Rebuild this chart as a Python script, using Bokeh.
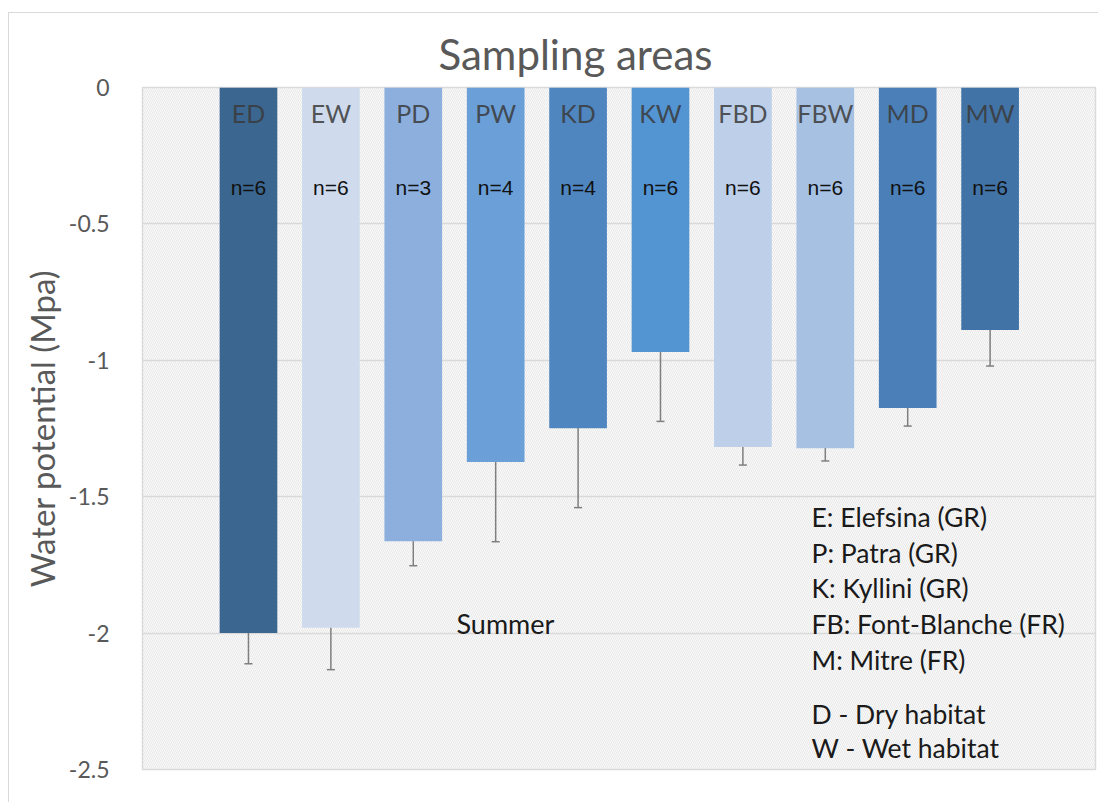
from bokeh.plotting import figure
from bokeh.models import Range1d, FixedTicker, Whisker, ColumnDataSource, BoxAnnotation, Label, TeeHead, Title
from bokeh.core.properties import value
from bokeh.embed import file_html
from bokeh.resources import INLINE

# ---- data ----
categories = ["ED", "EW", "PD", "PW", "KD", "KW", "FBD", "FBW", "MD", "MW"]
means = [-2.00, -1.98, -1.663, -1.373, -1.249, -0.970, -1.318, -1.322, -1.175, -0.889]
errors = [0.112, 0.154, 0.090, 0.292, 0.291, 0.254, 0.066, 0.047, 0.066, 0.132]
n_labels = ["n=6", "n=6", "n=3", "n=4", "n=4", "n=6", "n=6", "n=6", "n=6", "n=6"]
bar_colors = ["#3b6690", "#cfdbed", "#8cafdd", "#6a9fd8", "#4f86c0",
              "#5394d2", "#bdcfe9", "#a7c1e3", "#4a7fb8", "#4273a6"]
y_ticks = [0, -0.5, -1, -1.5, -2, -2.5]
y_tick_labels = ["0", "-0.5", "-1", "-1.5", "-2", "-2.5"]
legend_lines = ["E: Elefsina (GR)", "P: Patra (GR)", "K: Kyllini (GR)",
                "FB: Font-Blanche (FR)", "M: Mitre (FR)"]
habitat_lines = ["D - Dry habitat", "W - Wet habitat"]
title_text = "Sampling areas"
season_text = "Summer"
y_label = "Water potential (Mpa)"

FONT = "Lato"
idx = list(range(len(categories)))

p = figure(width=1090, height=790, output_backend="svg", toolbar_location=None,
           x_range=Range1d(-1.286, 10.279), y_range=Range1d(-2.5, 0),
           min_border_left=133, min_border_right=4, min_border_top=74, min_border_bottom=34)
p.styles = {"border-left": "1px solid #d9d9d9", "border-top": "1px solid #d9d9d9",
            "margin-left": "8px", "margin-top": "12px"}

p.background_fill_color = "#fbfbfb"
p.outline_line_color = "#d9d9d9"
p.outline_line_width = 1.5
p.add_layout(BoxAnnotation(level="image", fill_alpha=0, line_alpha=0,
                           hatch_pattern="\\", hatch_color="#e2e2e2",
                           hatch_scale=4, hatch_weight=0.8))

t = Title(text=title_text, align="left", offset=296, standoff=18,
          text_font=FONT, text_font_size="42px", text_font_style="normal",
          text_color="#595959")
p.add_layout(t, "above")

p.xaxis.visible = False
p.xgrid.visible = False
p.ygrid.grid_line_color = "#d9d9d9"
p.ygrid.grid_line_width = 1.5
p.ygrid.ticker = FixedTicker(ticks=y_ticks)

ax = p.yaxis[0]
ax.ticker = FixedTicker(ticks=y_ticks)
ax.major_label_overrides = {t: l for t, l in zip(y_ticks, y_tick_labels)}
ax.axis_line_color = None
ax.major_tick_line_color = None
ax.minor_tick_line_color = None
ax.major_label_standoff = 27
ax.major_label_text_font = FONT
ax.major_label_text_font_size = "23px"
ax.major_label_text_color = "#595959"
ax.axis_label = y_label
ax.axis_label_text_font = FONT
ax.axis_label_text_font_size = "33px"
ax.axis_label_text_font_style = "normal"
ax.axis_label_text_color = "#595959"
ax.axis_label_standoff = 4

src = ColumnDataSource(dict(x=idx, top=[0] * len(idx), bottom=means, color=bar_colors,
                            cat=categories, n=n_labels,
                            upper=[m + e for m, e in zip(means, errors)],
                            lower=[m - e for m, e in zip(means, errors)]))
p.vbar(x="x", top="top", bottom="bottom", width=0.70, fill_color="color",
       line_color=None, source=src)

w = Whisker(base="x", upper="upper", lower="lower", source=src,
            line_color="#7f7f7f", line_width=1.5,
            upper_head=TeeHead(size=8, line_color="#7f7f7f", line_width=1.5),
            lower_head=TeeHead(size=8, line_color="#7f7f7f", line_width=1.5))
p.add_layout(w)

p.text(x="x", y=-0.095, text="cat", source=src, text_align="center",
       text_baseline="middle", text_font=value(FONT), text_font_size="25px",
       text_color="#3a3a3a", text_alpha=0.85)
p.text(x="x", y=-0.367, text="n", source=src, text_align="center",
       text_baseline="middle", text_font=value("Liberation Sans"),
       text_font_size="21px", text_color="#111111")

legend_y = [-1.576, -1.705, -1.833, -1.965, -2.097]
for txt, yy in zip(legend_lines, legend_y):
    p.add_layout(Label(x=6.833, y=yy, text=txt, text_align="left", text_baseline="middle",
                       text_font=FONT, text_font_size="26.5px", text_color="#1a1a1a"))
for txt, yy in zip(habitat_lines, [-2.295, -2.423]):
    p.add_layout(Label(x=6.833, y=yy, text=txt, text_align="left", text_baseline="middle",
                       text_font=FONT, text_font_size="26.5px", text_color="#1a1a1a"))
p.add_layout(Label(x=2.524, y=-1.965, text=season_text, text_align="left",
                   text_baseline="middle", text_font=FONT, text_font_size="27px",
                   text_color="#1a1a1a"))

open("out.html", "w").write(file_html(p, INLINE))
